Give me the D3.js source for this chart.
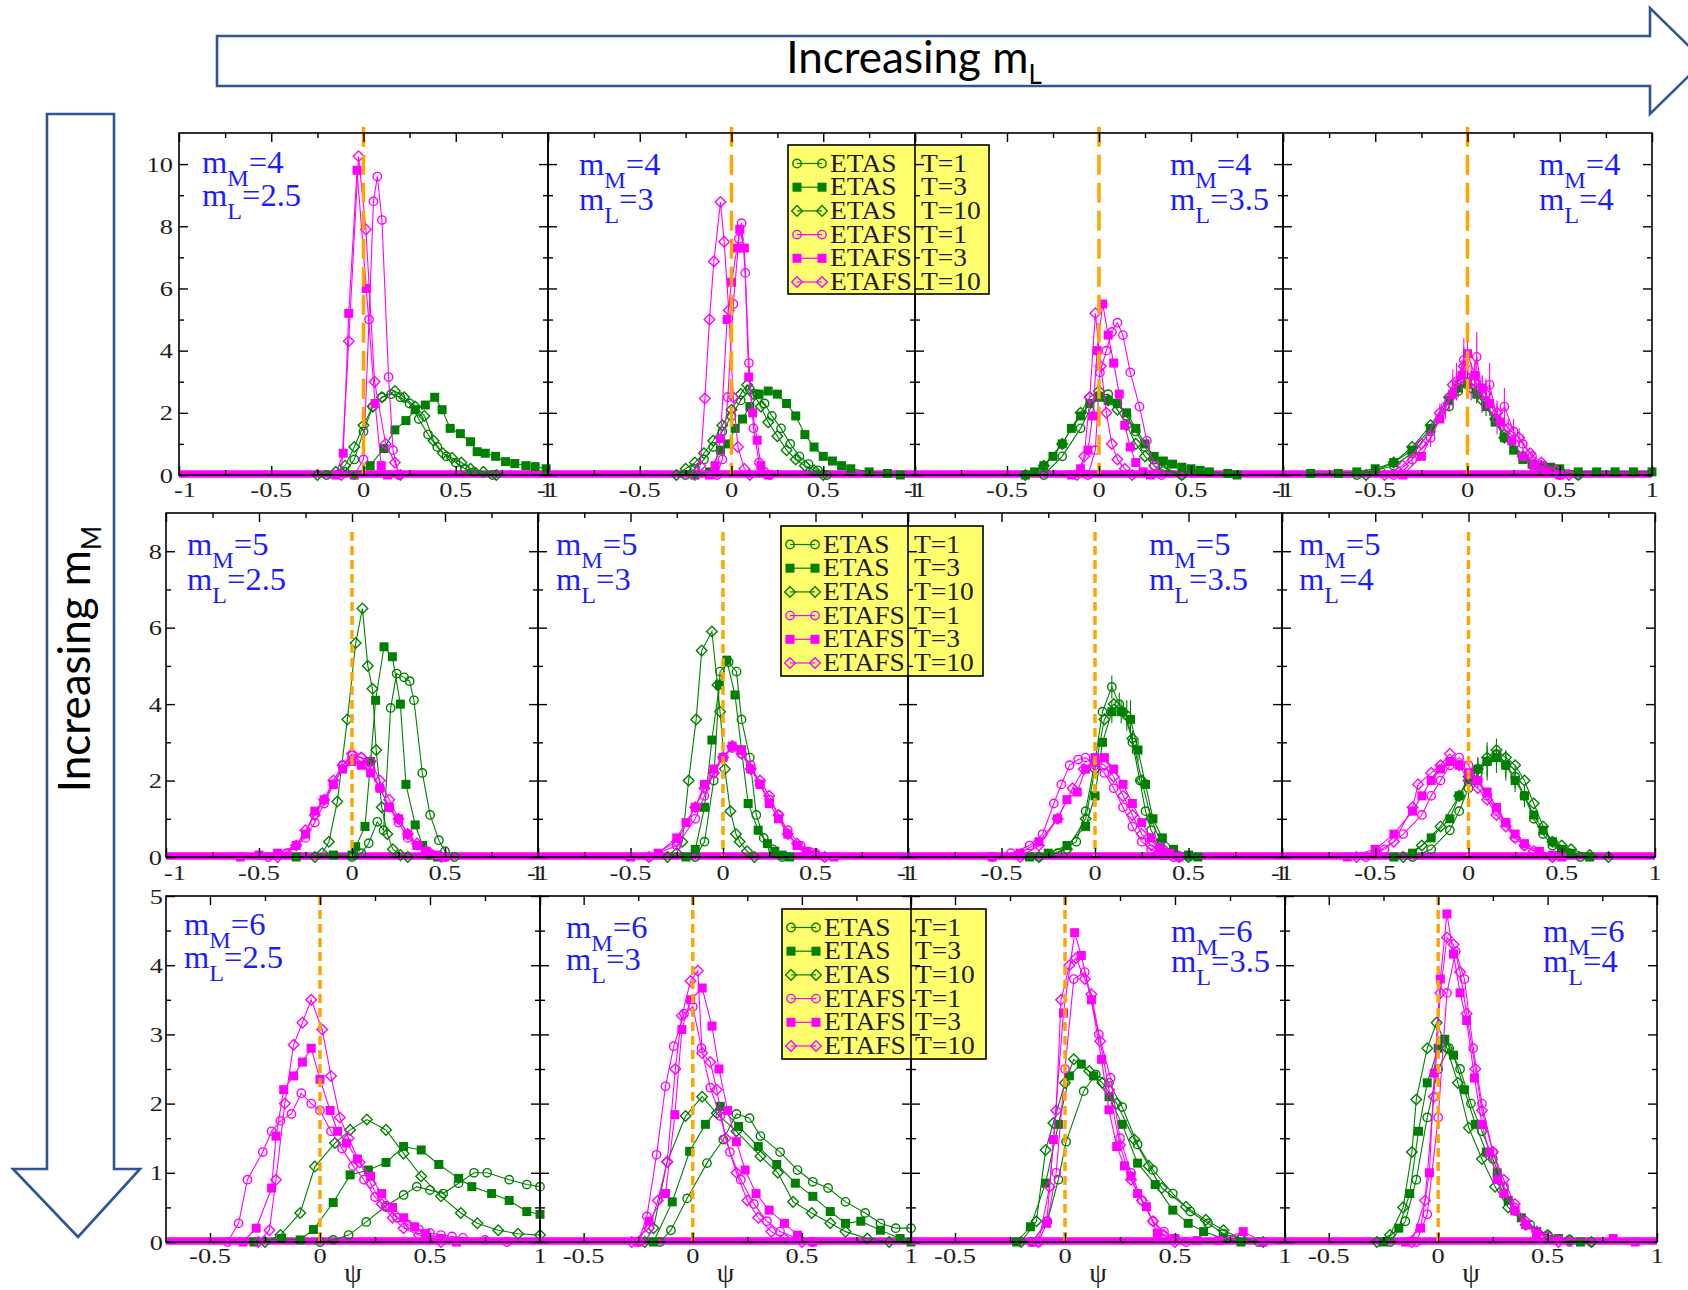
<!DOCTYPE html>
<html>
<head>
<meta charset="utf-8">
<script src="https://cdn.jsdelivr.net/npm/d3@7"></script>
<style>
  html, body { margin: 0; padding: 0; background: #ffffff; }
  svg { display: block; }
</style>
</head>
<body>
<svg id="chart" width="1688" height="1290"></svg>
<script>
// ---------------------------------------------------------------
// Histograms of psi: ETAS vs ETAFS, three time windows T, for
// mainshock magnitude m_M (rows) and lower magnitude m_L (columns).
// Each series is a list of [psi, density] or [psi, density, error].
// ---------------------------------------------------------------

const rowMM = ["4", "5", "6"];
const colML = ["2.5", "3", "3.5", "4"];
const seriesLabel = ["ETAS", "ETAS", "ETAS", "ETAFS", "ETAFS", "ETAFS"];
const seriesT = ["T=1", "T=3", "T=10", "T=1", "T=3", "T=10"];

const yMax = [11, 9, 5];
const yMajor = [[0, 2, 4, 6, 8, 10], [0, 2, 4, 6, 8], [0, 1, 2, 3, 4, 5]];
const yMinor = [[1, 3, 5, 7, 9, 11], [1, 3, 5, 7, 9], [0.5, 1.5, 2.5, 3.5, 4.5]];
const xDomains = [[-1, 1], [-1, 1], [-0.7, 1]];
const xMajor = [[-1, -0.5, 0, 0.5, 1], [-1, -0.5, 0, 0.5, 1], [-0.5, 0, 0.5, 1]];
const xMinor = [[-0.75, -0.25, 0.25, 0.75], [-0.75, -0.25, 0.25, 0.75], [-0.25, 0.25, 0.75]];
const xTickText = [["-1", "-0.5", "0", "0.5", "1"], ["-1", "-0.5", "0", "0.5", "1"], ["-0.5", "0", "0.5", "1"]];
const refLineTop = [11.2, 8.5, 5];

// ---- m_M = 4 ----
const r1c1_etas1 = [[-0.2,0],[-0.1,0.1],[-0.05,0.5],[0,1.4],[0.05,2.2],[0.1,2.5],[0.15,2.6],[0.2,2.5],[0.25,2.3],[0.3,1.8],[0.35,1.3],[0.4,0.9],[0.45,0.6],[0.5,0.4],[0.55,0.2],[0.6,0.1],[0.7,0]];
const r1c1_etas3 = [[-0.05,0],[0.036,0.3],[0.11,0.85],[0.17,1.45],[0.23,1.75],[0.28,2.1],[0.335,2.25],[0.386,2.5],[0.426,2.1],[0.47,1.5],[0.525,1.33],[0.58,1.07],[0.616,0.75],[0.66,0.7],[0.716,0.6],[0.77,0.43],[0.82,0.37],[0.88,0.3],[0.93,0.27],[0.99,0.2]];
const r1c1_etas10 = [[-0.25,0],[-0.15,0.1],[-0.1,0.3],[-0.05,0.9],[0,1.6],[0.05,2.2],[0.1,2.5],[0.17,2.7],[0.22,2.5],[0.28,2.2],[0.33,1.9],[0.38,1.1],[0.43,0.7],[0.48,0.55],[0.53,0.4],[0.58,0.2],[0.65,0.1],[0.72,0]];
const r1c1_etafs1 = [[-0.05,0],[0,0.5],[0.03,5.0],[0.054,8.8],[0.075,9.6],[0.1,8.2],[0.136,3.15],[0.16,0.8],[0.19,0]];
const r1c1_etafs3 = [[-0.15,0],[-0.11,0.7],[-0.08,5.2],[-0.035,9.8],[0.015,6.0],[0.063,2.3],[0.096,0.3],[0.13,0]];
const r1c1_etafs10 = [[-0.12,0],[-0.08,4.3],[-0.027,10.25],[0.013,7.9],[0.06,3.0],[0.12,1.0],[0.17,0.4],[0.2,0]];

const r1c2_etas1 = [[-0.25,0],[-0.2,0.2],[-0.15,0.5],[-0.1,0.9],[-0.05,1.4],[0,1.9],[0.05,2.4],[0.1,2.75],[0.14,2.6],[0.18,2.3],[0.22,1.9],[0.27,1.5],[0.32,1.0],[0.37,0.6],[0.42,0.35],[0.47,0.15],[0.52,0]];
const r1c2_etas3 = [[-0.2,0],[-0.12,0.1],[-0.06,0.8],[-0.02,1.0],[0.02,1.5],[0.06,1.8],[0.1,2.2],[0.15,2.6],[0.2,2.7],[0.25,2.6],[0.3,2.3],[0.35,1.9],[0.4,1.3],[0.45,0.9],[0.5,0.6],[0.55,0.45],[0.6,0.3],[0.65,0.2],[0.75,0.1],[0.85,0.05],[0.92,0]];
const r1c2_etas10 = [[-0.3,0],[-0.25,0.2],[-0.2,0.4],[-0.15,0.7],[-0.1,1.1],[-0.05,1.6],[0,2.1],[0.05,2.6],[0.085,2.9],[0.12,2.6],[0.16,2.2],[0.2,1.7],[0.25,1.25],[0.3,0.8],[0.35,0.5],[0.4,0.3],[0.45,0.15],[0.5,0]];
const r1c2_etafs1 = [[-0.08,0],[-0.05,0.5],[-0.02,2.5],[0.01,5.5],[0.04,7.6],[0.055,8.1],[0.075,6.5],[0.095,3.6],[0.12,1.5],[0.15,0.4],[0.18,0.1],[0.21,0]];
const r1c2_etafs3 = [[-0.12,0],[-0.09,0.3],[-0.06,1.17],[-0.024,5.0],[0,6.2],[0.03,7.3],[0.045,7.9],[0.07,7.3],[0.094,3.15],[0.115,2.0],[0.14,1.12],[0.16,0.3],[0.2,0]];
const r1c2_etafs10 = [[-0.2,0],[-0.17,0.3],[-0.145,2.46],[-0.12,5.0],[-0.096,6.87],[-0.06,8.78],[-0.04,7.5],[-0.015,5.3],[0.01,2.5],[0.035,0.9],[0.07,0.2],[0.1,0]];

const r1c3_etas1 = [[-0.3,0],[-0.2,0.6],[-0.1,1.5],[-0.05,2.1],[0,2.55],[0.05,2.6],[0.1,2.3],[0.15,1.9],[0.2,1.4],[0.25,0.9],[0.3,0.5],[0.35,0.25],[0.45,0]];
const r1c3_etas3 = [[-0.4,0],[-0.35,0.1],[-0.3,0.3],[-0.25,0.6],[-0.2,1.0],[-0.15,1.5],[-0.1,1.9],[-0.05,2.3],[0,2.5],[0.05,2.4],[0.1,2.3],[0.15,2.0],[0.2,1.5],[0.25,1.0],[0.3,0.6],[0.35,0.45],[0.4,0.35],[0.45,0.25],[0.5,0.2],[0.55,0.15],[0.6,0.1],[0.7,0.05],[0.75,0]];
const r1c3_etas10 = [[-0.4,0],[-0.3,0.3],[-0.2,1.0],[-0.1,2.0],[-0.05,2.5],[0,2.7],[0.05,2.4],[0.1,2.1],[0.15,1.6],[0.2,1.0],[0.25,0.6],[0.3,0.3],[0.35,0.15],[0.45,0]];
const r1c3_etafs1 = [[-0.06,0],[-0.02,0.8],[0.005,3.3],[0.04,4.0],[0.07,4.6],[0.1,4.9],[0.13,4.5],[0.17,3.3],[0.22,2.2],[0.26,1.1],[0.3,0.3],[0.34,0]];
const r1c3_etafs3 = [[-0.15,0],[-0.1,0.2],[-0.06,0.8],[-0.035,1.9],[-0.01,4.0],[0.02,5.5],[0.05,4.5],[0.08,3.6],[0.11,2.6],[0.14,1.6],[0.17,0.9],[0.2,0.4],[0.24,0.1],[0.28,0]];
const r1c3_etafs10 = [[-0.12,0],[-0.08,0.6],[-0.05,2.5],[-0.02,5.2],[0.01,3.5],[0.04,2.0],[0.07,1.0],[0.1,0.5],[0.14,0.2],[0.18,0]];

const r1c4_etas1 = [[-0.6,0],[-0.4,0.3],[-0.3,0.7],[-0.2,1.4],[-0.1,2.2],[-0.05,2.7],[0,2.9],[0.05,2.7],[0.1,2.3],[0.15,1.8],[0.2,1.3],[0.3,0.6],[0.4,0.2],[0.5,0.1],[0.6,0]];
const r1c4_etas3 = [[-0.85,0.05],[-0.7,0.05],[-0.6,0.1],[-0.5,0.2],[-0.4,0.4],[-0.3,0.8],[-0.2,1.5],[-0.1,2.4,0.3],[-0.05,2.8,0.3],[0,3.0,0.4],[0.05,2.6,0.3],[0.1,2.2,0.3],[0.15,1.7],[0.2,1.2],[0.25,0.8],[0.3,0.5],[0.35,0.35],[0.4,0.3],[0.45,0.25],[0.5,0.2],[0.6,0.1],[0.7,0.1],[0.8,0.1],[0.9,0.1],[1.0,0.1]];
const r1c4_etas10 = [[-0.55,0],[-0.4,0.4],[-0.3,0.9],[-0.2,1.6],[-0.1,2.5],[-0.03,3.0],[0.02,2.8],[0.08,2.4],[0.15,1.8],[0.2,1.2],[0.3,0.6],[0.4,0.3],[0.5,0.1],[0.6,0]];
const r1c4_etafs1 = [[-0.4,0],[-0.3,0.5,0.2],[-0.2,1.2,0.3],[-0.12,2.2,0.4],[-0.06,3.0,0.6],[-0.02,3.7,0.7],[0.02,3.0,0.6],[0.05,3.8,0.8],[0.08,2.6,0.6],[0.12,2.9,0.7],[0.16,1.8,0.5],[0.2,2.2,0.6],[0.25,1.4,0.4],[0.3,1.0,0.3],[0.35,0.6,0.2],[0.4,0.3],[0.45,0.1],[0.5,0]];
const r1c4_etafs3 = [[-0.35,0],[-0.25,0.6],[-0.15,1.8],[-0.08,2.6,0.4],[-0.03,3.2,0.5],[0,3.9,0.5],[0.04,3.2,0.5],[0.08,2.8,0.4],[0.12,2.3,0.4],[0.18,1.7,0.3],[0.24,1.1],[0.3,0.6],[0.36,0.3],[0.42,0.1],[0.5,0]];
const r1c4_etafs10 = [[-0.45,0],[-0.35,0.3],[-0.25,1.0],[-0.15,2.0,0.3],[-0.08,2.9,0.5],[-0.02,3.5,0.6],[0.04,3.0,0.5],[0.1,2.6,0.5],[0.16,2.0,0.4],[0.22,1.5,0.3],[0.28,1.2,0.3],[0.34,0.7],[0.4,0.4],[0.48,0.15],[0.55,0]];

// ---- m_M = 5 ----
const r2c1_etas1 = [[0,0],[0.05,0.1],[0.09,0.36],[0.136,0.92],[0.17,0.7],[0.208,3.9],[0.24,4.8],[0.28,4.7],[0.31,4.6],[0.333,4.1],[0.378,2.2],[0.42,1.1],[0.467,0.44],[0.5,0.15],[0.55,0]];
const r2c1_etas3 = [[-0.3,0],[-0.1,0.05],[0,0.05],[0.02,0.27],[0.07,0.8],[0.1,2.5],[0.127,4.1],[0.172,5.5],[0.217,5.24],[0.26,4.0],[0.29,1.9],[0.34,0.84],[0.38,0.3],[0.42,0.05],[0.46,0]];
const r2c1_etas10 = [[-0.2,0],[-0.16,0.1],[-0.124,0.4],[-0.079,1.45],[-0.025,3.6],[0.02,5.6],[0.056,6.5],[0.085,5.0],[0.11,4.4],[0.13,2.8],[0.16,1.3],[0.19,0.6],[0.22,0.2],[0.26,0.05],[0.3,0]];
const r2c1_etafs1 = [[-0.45,0],[-0.35,0.1],[-0.25,0.5],[-0.2,0.9],[-0.15,1.4],[-0.1,1.9],[-0.05,2.4],[0,2.65],[0.05,2.6],[0.1,2.3],[0.15,1.8],[0.2,1.3],[0.25,0.9],[0.3,0.5],[0.35,0.3],[0.42,0.1],[0.5,0]];
const r2c1_etafs3 = [[-0.6,0],[-0.5,0.05],[-0.4,0.1],[-0.3,0.3],[-0.25,0.6],[-0.2,1.2],[-0.15,1.5],[-0.1,1.9],[-0.05,2.3],[0,2.5],[0.05,2.4],[0.1,2.2],[0.15,1.8],[0.2,1.3],[0.25,1.0],[0.3,0.6],[0.35,0.3],[0.4,0.15],[0.45,0.05],[0.5,0]];
const r2c1_etafs10 = [[-0.4,0],[-0.3,0.3],[-0.25,0.7],[-0.2,1.1],[-0.15,1.5],[-0.1,2.0],[-0.05,2.4],[0,2.7],[0.05,2.6],[0.1,2.5],[0.15,2.0],[0.2,1.5],[0.25,1.0],[0.3,0.6],[0.35,0.35],[0.4,0.15],[0.48,0]];

const r2c2_etas1 = [[-0.15,0],[-0.1,0.4],[-0.05,2.0],[-0.016,4.85],[0.03,5.1],[0.073,4.85],[0.1,3.6],[0.145,2.6],[0.18,1.1],[0.22,0.5],[0.27,0.2],[0.32,0]];
const r2c2_etas3 = [[-0.2,0],[-0.15,0.2],[-0.1,1.3],[-0.06,3.06],[-0.02,4.5],[0.02,5.15],[0.065,4.24],[0.1,2.8],[0.136,1.4],[0.19,0.7],[0.24,0.35],[0.28,0.15],[0.32,0.05],[0.36,0]];
const r2c2_etas10 = [[-0.3,0],[-0.25,0.1],[-0.22,0.4],[-0.186,2.0],[-0.145,3.6],[-0.115,5.4],[-0.06,5.9],[-0.03,4.5],[-0.016,3.8],[0.01,2.3],[0.04,1.2],[0.07,0.6],[0.09,0.4],[0.13,0.15],[0.17,0]];
const r2c2_etafs1 = [[-0.4,0],[-0.25,0.3],[-0.15,1.0],[-0.1,1.6],[-0.05,2.2],[0,2.6],[0.05,2.85],[0.1,2.7],[0.15,2.4],[0.2,1.9],[0.25,1.5],[0.3,1.1],[0.35,0.7],[0.42,0.3],[0.5,0.1],[0.55,0]];
const r2c2_etafs3 = [[-0.5,0],[-0.35,0.1],[-0.25,0.5],[-0.2,0.9],[-0.15,1.3],[-0.1,1.9],[-0.05,2.3],[0,2.6],[0.05,2.9],[0.1,2.8],[0.15,2.3],[0.2,1.9],[0.25,1.4],[0.3,1.0],[0.35,0.6],[0.4,0.3],[0.45,0.15],[0.5,0.05],[0.6,0]];
const r2c2_etafs10 = [[-0.4,0],[-0.25,0.4],[-0.15,1.3],[-0.1,1.8],[-0.05,2.2],[0,2.6],[0.05,2.9],[0.1,2.7],[0.15,2.3],[0.2,2.0],[0.25,1.6],[0.3,1.1],[0.35,0.6],[0.4,0.35],[0.48,0.1],[0.55,0]];

const r2c3_etas1 = [[-0.3,0],[-0.2,0.1],[-0.1,0.4],[-0.05,1.2],[0,2.5],[0.04,3.8],[0.09,4.45,0.3],[0.13,4.0,0.3],[0.17,3.7,0.4],[0.2,3.0,0.3],[0.24,2.0],[0.27,1.2],[0.3,0.7],[0.35,0.3],[0.42,0.1],[0.5,0]];
const r2c3_etas3 = [[-0.35,0],[-0.25,0.1],[-0.15,0.3],[-0.05,0.8],[0,1.6],[0.04,3.0],[0.09,3.8,0.3],[0.14,3.8,0.3],[0.19,3.6,0.5],[0.23,2.8,0.3],[0.27,1.9],[0.31,1.0],[0.36,0.5],[0.42,0.2],[0.5,0.05],[0.55,0]];
const r2c3_etas10 = [[-0.3,0],[-0.15,0.2],[-0.05,1.0],[0,2.3],[0.05,3.6],[0.1,4.0],[0.15,3.8],[0.2,3.1],[0.25,2.0],[0.3,1.0],[0.35,0.4],[0.42,0.1],[0.5,0]];
const r2c3_etafs1 = [[-0.55,0],[-0.45,0.1],[-0.35,0.3],[-0.28,0.6],[-0.22,1.4],[-0.18,1.9],[-0.136,2.4],[-0.09,2.55],[-0.05,2.6],[0,2.4],[0.05,2.2],[0.1,1.8],[0.15,1.3],[0.2,0.8],[0.25,0.4],[0.3,0.2],[0.36,0.05],[0.42,0]];
const r2c3_etafs3 = [[-0.55,0],[-0.4,0.1],[-0.3,0.4],[-0.2,1.0],[-0.15,1.5],[-0.095,1.7],[-0.05,2.3],[0,2.6],[0.05,2.6],[0.1,2.3],[0.15,1.9],[0.2,1.4],[0.25,0.9],[0.3,0.5],[0.35,0.25],[0.4,0.1],[0.45,0]];
const r2c3_etafs10 = [[-0.4,0],[-0.3,0.3],[-0.2,1.0],[-0.12,1.8],[-0.06,2.3],[0,2.5],[0.05,2.4],[0.1,2.1],[0.15,1.6],[0.2,1.1],[0.25,0.6],[0.3,0.3],[0.38,0.1],[0.45,0]];

const r2c4_etas1 = [[-0.3,0],[-0.2,0.2],[-0.1,0.7],[-0.05,1.2],[0,1.8,0.3],[0.05,2.2,0.4],[0.1,2.5,0.5],[0.15,2.7,0.4],[0.2,2.4,0.4],[0.25,2.1,0.3],[0.3,1.6,0.3],[0.35,1.0],[0.4,0.6],[0.45,0.3],[0.5,0.15],[0.6,0]];
const r2c4_etas3 = [[-0.4,0],[-0.3,0.1],[-0.2,0.5],[-0.1,1.0],[-0.05,1.6],[0,2.0,0.3],[0.05,2.3,0.3],[0.1,2.5,0.4],[0.15,2.6,0.4],[0.2,2.4,0.3],[0.25,2.0,0.3],[0.3,1.6],[0.35,1.1],[0.4,0.7],[0.45,0.4],[0.5,0.2],[0.55,0.1],[0.65,0]];
const r2c4_etas10 = [[-0.35,0],[-0.25,0.3],[-0.15,0.8],[-0.05,1.6],[0,2.1],[0.05,2.3],[0.1,2.6],[0.15,2.8],[0.2,2.6],[0.25,2.4],[0.3,2.0],[0.35,1.4],[0.4,0.8],[0.45,0.4],[0.5,0.3],[0.55,0.2],[0.65,0.05],[0.75,0]];
const r2c4_etafs1 = [[-0.55,0],[-0.45,0.2],[-0.35,0.6],[-0.25,1.1],[-0.2,1.6],[-0.15,2.0],[-0.1,2.4],[-0.05,2.6],[0,2.4],[0.05,2.0],[0.1,1.6],[0.15,1.2],[0.2,0.9],[0.25,0.5],[0.3,0.3],[0.38,0.1],[0.45,0]];
const r2c4_etafs3 = [[-0.65,0],[-0.5,0.2],[-0.4,0.6],[-0.3,1.2],[-0.25,1.6],[-0.2,2.0],[-0.15,2.3],[-0.1,2.5],[-0.05,2.4],[0,2.2],[0.05,2.0],[0.1,1.7],[0.15,1.3],[0.2,0.9],[0.25,0.6],[0.3,0.35],[0.38,0.15],[0.45,0.05],[0.5,0]];
const r2c4_etafs10 = [[-0.6,0],[-0.5,0.1],[-0.4,0.4],[-0.3,1.3],[-0.27,1.9],[-0.2,2.2],[-0.15,2.4],[-0.1,2.7],[-0.05,2.4],[0,2.0],[0.05,1.8],[0.1,1.5],[0.15,1.1],[0.2,0.8],[0.25,0.5],[0.3,0.3],[0.35,0.15],[0.45,0]];

// ---- m_M = 6 ----
const r3c1_etas1 = [[0,0],[0.06,0.03],[0.13,0.1],[0.21,0.29],[0.3,0.52],[0.38,0.68],[0.44,0.8],[0.5,0.75],[0.56,0.7],[0.63,0.85],[0.7,1.0],[0.76,1.0],[0.86,0.9],[0.94,0.83],[1.0,0.8]];
const r3c1_etas3 = [[-0.3,0],[-0.175,0.05],[-0.09,0.03],[-0.03,0.18],[0.06,0.57],[0.137,0.97],[0.22,1.04],[0.3,1.15],[0.38,1.38],[0.46,1.33],[0.54,1.12],[0.63,0.92],[0.69,0.8],[0.78,0.7],[0.86,0.6],[0.94,0.44],[1.0,0.4]];
const r3c1_etas10 = [[-0.25,0],[-0.18,0.1],[-0.09,0.42],[-0.023,1.09],[0.068,1.43],[0.137,1.62],[0.213,1.77],[0.3,1.62],[0.38,1.28],[0.46,0.95],[0.55,0.66],[0.64,0.42],[0.715,0.27],[0.81,0.17],[0.9,0.12],[1.0,0.1]];
const r3c1_etafs1 = [[-0.42,0],[-0.37,0.27],[-0.33,0.9],[-0.26,1.3],[-0.22,1.6],[-0.18,1.75],[-0.13,1.85],[-0.085,2.15],[-0.04,2.0],[0,1.9],[0.05,1.6],[0.1,1.35],[0.15,1.1],[0.2,0.9],[0.25,0.65],[0.3,0.5],[0.35,0.35],[0.4,0.25],[0.45,0.18],[0.5,0.13],[0.55,0.1],[0.6,0.08],[0.65,0.06],[0.75,0.03],[0.85,0]];
const r3c1_etafs3 = [[-0.35,0],[-0.29,0.2],[-0.22,0.78],[-0.2,1.53],[-0.165,2.2],[-0.12,2.4],[-0.08,2.6],[-0.04,2.8],[0,2.35],[0.046,1.9],[0.08,1.6],[0.12,1.43],[0.17,1.2],[0.23,0.95],[0.28,0.7],[0.33,0.5],[0.38,0.35],[0.43,0.22],[0.48,0.12],[0.55,0.05],[0.62,0]];
const r3c1_etafs10 = [[-0.28,0],[-0.23,0.17],[-0.2,0.9],[-0.16,2.0],[-0.12,2.85],[-0.08,3.17],[-0.04,3.5],[0.01,3.07],[0.05,2.4],[0.09,1.8],[0.13,1.5],[0.18,1.15],[0.23,0.85],[0.28,0.55],[0.33,0.35],[0.38,0.2],[0.45,0.1],[0.55,0]];

const r3c2_etas1 = [[-0.15,0],[-0.1,0.17],[-0.026,0.63],[0.065,1.14],[0.14,1.48],[0.2,1.85],[0.26,1.79],[0.31,1.53],[0.4,1.3],[0.48,1.04],[0.55,0.87],[0.62,0.78],[0.7,0.58],[0.79,0.42],[0.86,0.27],[0.93,0.2],[1.0,0.2]];
const r3c2_etas3 = [[-0.18,0],[-0.094,0.58],[-0.014,1.31],[0.058,1.7],[0.126,1.96],[0.21,1.67],[0.3,1.38],[0.385,1.12],[0.47,0.85],[0.55,0.66],[0.63,0.44],[0.7,0.27],[0.77,0.3],[0.86,0.17],[0.95,0.05],[1.0,0]];
const r3c2_etas10 = [[-0.22,0],[-0.18,0.2],[-0.117,1.16],[-0.033,1.82],[0.043,2.1],[0.11,1.86],[0.2,1.6],[0.31,1.24],[0.39,1.0],[0.46,0.58],[0.545,0.42],[0.63,0.27],[0.7,0.15],[0.8,0.05],[0.9,0]];
const r3c2_etafs1 = [[-0.25,0],[-0.21,0.37],[-0.166,1.26],[-0.125,2.25],[-0.087,2.83],[-0.04,3.3],[0,3.4],[0.04,2.8],[0.08,2.23],[0.126,1.82],[0.17,1.3],[0.22,0.9],[0.28,0.55],[0.34,0.3],[0.4,0.15],[0.48,0.05],[0.55,0]];
const r3c2_etafs3 = [[-0.25,0],[-0.2,0.3],[-0.125,0.7],[-0.082,1.84],[-0.05,3.07],[-0.01,3.5],[0.043,3.67],[0.088,3.12],[0.12,2.5],[0.16,1.9],[0.2,1.45],[0.24,1.04],[0.29,0.7],[0.35,0.46],[0.42,0.27],[0.48,0.1],[0.55,0]];
const r3c2_etafs10 = [[-0.28,0],[-0.2,0.2],[-0.16,0.6],[-0.117,1.16],[-0.08,2.5],[-0.05,3.27],[-0.01,3.77],[0.023,3.92],[0.043,2.73],[0.08,2.6],[0.11,2.2],[0.15,1.5],[0.2,1.0],[0.25,0.6],[0.3,0.35],[0.36,0.15],[0.42,0.05],[0.5,0]];

const r3c3_etas1 = [[-0.15,0],[-0.08,0.3],[-0.03,0.9],[0.005,1.45],[0.085,2.18],[0.14,2.42],[0.2,2.3],[0.26,1.95],[0.33,1.41],[0.4,1.04],[0.49,0.7],[0.57,0.44],[0.65,0.27],[0.72,0.12],[0.8,0.05],[0.88,0]];
const r3c3_etas3 = [[-0.22,0],[-0.157,0.22],[-0.088,0.85],[-0.03,1.7],[0.02,2.4],[0.074,2.57],[0.13,2.4],[0.2,2.1],[0.26,1.7],[0.33,1.14],[0.41,0.83],[0.49,0.46],[0.56,0.27],[0.63,0.15],[0.72,0.05],[0.8,0]];
const r3c3_etas10 = [[-0.2,0],[-0.13,0.3],[-0.088,1.33],[-0.053,1.72],[0,2.3],[0.04,2.64],[0.11,2.47],[0.17,2.3],[0.235,2.0],[0.315,1.48],[0.38,1.1],[0.44,0.78],[0.55,0.51],[0.64,0.32],[0.72,0.17],[0.8,0.05],[0.9,0]];
const r3c3_etafs1 = [[-0.12,0],[-0.08,0.3],[-0.04,1.0],[0,2.5],[0.04,3.8],[0.09,3.9],[0.154,3.0],[0.207,2.37],[0.25,1.5],[0.3,1.0],[0.35,0.6],[0.4,0.3],[0.45,0.15],[0.5,0.05],[0.55,0]];
const r3c3_etafs3 = [[-0.15,0],[-0.083,0.27],[-0.053,1.48],[-0.007,3.31],[0.044,4.47],[0.074,4.14],[0.12,3.5],[0.166,2.64],[0.2,1.91],[0.235,1.38],[0.27,1.1],[0.3,0.95],[0.33,0.7],[0.37,0.51],[0.42,0.13],[0.5,0.05],[0.6,0.02],[0.7,0.02],[0.81,0.15],[0.9,0]];
const r3c3_etafs10 = [[-0.12,0],[-0.07,0.8],[-0.04,1.9],[-0.018,3.5],[0.02,4.0],[0.05,4.1],[0.09,3.8],[0.12,3.58],[0.16,2.9],[0.2,2.2],[0.25,1.4],[0.3,0.9],[0.35,0.6],[0.4,0.3],[0.45,0.1],[0.5,0]];

const r3c4_etas1 = [[-0.22,0],[-0.15,0.3],[-0.1,0.9],[-0.05,1.8],[0,2.5],[0.05,2.8],[0.1,2.5],[0.15,2.0],[0.2,1.6],[0.25,1.2],[0.3,0.8],[0.35,0.45],[0.42,0.25],[0.5,0.1],[0.6,0.03],[0.7,0]];
const r3c4_etas3 = [[-0.25,0],[-0.18,0.2],[-0.13,0.7],[-0.09,1.6],[-0.05,2.3],[0,2.8],[0.03,2.93],[0.07,2.7],[0.12,2.2],[0.17,1.7],[0.22,1.3],[0.27,1.0],[0.32,0.6],[0.38,0.35],[0.45,0.15],[0.55,0.05],[0.65,0]];
const r3c4_etas10 = [[-0.28,0],[-0.22,0.1],[-0.16,0.5],[-0.12,1.3],[-0.1,2.06],[-0.05,2.8],[-0.007,3.17],[0.04,2.8],[0.09,2.3],[0.14,1.65],[0.2,1.2],[0.26,0.8],[0.32,0.5],[0.4,0.25],[0.5,0.1],[0.6,0.03],[0.7,0]];
const r3c4_etafs1 = [[-0.1,0],[-0.05,0.4],[0,1.8],[0.04,3.6],[0.08,4.2],[0.12,3.8],[0.16,2.8],[0.2,2.0],[0.25,1.3],[0.3,0.8],[0.35,0.5],[0.4,0.25],[0.5,0.08],[0.6,0]];
const r3c4_etafs3 = [[-0.15,0],[-0.08,0.2],[-0.04,1.0],[-0.018,2.44],[0.01,3.8],[0.04,4.74],[0.07,4.16],[0.1,3.6],[0.13,3.2],[0.166,2.37],[0.2,1.7],[0.235,1.29],[0.27,0.9],[0.3,0.7],[0.35,0.45],[0.4,0.25],[0.45,0.12],[0.55,0.03],[0.8,0.05],[0.9,0]];
const r3c4_etafs10 = [[-0.12,0],[-0.06,0.6],[-0.02,2.1],[0.01,3.6],[0.04,4.4],[0.07,4.3],[0.1,3.9],[0.13,3.3],[0.17,2.5],[0.2,1.9],[0.25,1.3],[0.3,0.9],[0.35,0.55],[0.4,0.3],[0.45,0.15],[0.55,0]];

// panel -> six series, in legend order
const panelSeries = [
  [[r1c1_etas1, r1c1_etas3, r1c1_etas10, r1c1_etafs1, r1c1_etafs3, r1c1_etafs10],
   [r1c2_etas1, r1c2_etas3, r1c2_etas10, r1c2_etafs1, r1c2_etafs3, r1c2_etafs10],
   [r1c3_etas1, r1c3_etas3, r1c3_etas10, r1c3_etafs1, r1c3_etafs3, r1c3_etafs10],
   [r1c4_etas1, r1c4_etas3, r1c4_etas10, r1c4_etafs1, r1c4_etafs3, r1c4_etafs10]],
  [[r2c1_etas1, r2c1_etas3, r2c1_etas10, r2c1_etafs1, r2c1_etafs3, r2c1_etafs10],
   [r2c2_etas1, r2c2_etas3, r2c2_etas10, r2c2_etafs1, r2c2_etafs3, r2c2_etafs10],
   [r2c3_etas1, r2c3_etas3, r2c3_etas10, r2c3_etafs1, r2c3_etafs3, r2c3_etafs10],
   [r2c4_etas1, r2c4_etas3, r2c4_etas10, r2c4_etafs1, r2c4_etafs3, r2c4_etafs10]],
  [[r3c1_etas1, r3c1_etas3, r3c1_etas10, r3c1_etafs1, r3c1_etafs3, r3c1_etafs10],
   [r3c2_etas1, r3c2_etas3, r3c2_etas10, r3c2_etafs1, r3c2_etafs3, r3c2_etafs10],
   [r3c3_etas1, r3c3_etas3, r3c3_etas10, r3c3_etafs1, r3c3_etafs3, r3c3_etafs10],
   [r3c4_etas1, r3c4_etas3, r3c4_etas10, r3c4_etafs1, r3c4_etafs3, r3c4_etafs10]]
];

// ---------------- layout & styles ----------------
const GREEN = "#008000", MAGENTA = "#ff00ff", ORANGE = "#ffa500";
const LABEL_BLUE = "#1c1cff", ARROW_BLUE = "#2f5597", INK = "#1e1e1e";
const SERIF = "'Liberation Serif', 'Times New Roman', serif";
const seriesColor = [GREEN, GREEN, GREEN, MAGENTA, MAGENTA, MAGENTA];
const seriesShape = ["circle", "square", "diamond", "circle", "square", "diamond"];

const rowTop = [133, 513, 896];
const rowBottom = [475, 857, 1242];
const colEdges = [[179, 548, 915, 1283, 1652], [166, 538, 908, 1282, 1655], [166, 540, 911, 1285, 1657]];
const yLabelRight = [173, 162, 163];
const firstXLabelShift = [6, 9, 0];
const xLabelBase = [497, 880, 1263];
const refDash = ["20,8", "9,5", "9,5"];
const legendBox = [[788, 145, 201, 149], [781, 526, 202, 150], [782, 909, 204, 150]];
const tagPos = [
  [[202, 173, 206], [579, 175, 210], [1170, 175, 210], [1539, 175, 210]],
  [[187, 555, 590], [556, 555, 590], [1149, 555, 590], [1299, 555, 590]],
  [[184, 935, 968], [566, 938, 970], [1171, 942, 972], [1543, 942, 972]]
];
const TICK_FONT = 22, TICK_STRETCH = 1.2;
const LEGEND_FONT = 25, LEGEND_STRETCH = 1.1, LEGEND_STEP = 23.7;

const svg = d3.select("#chart");

// ---------------- direction arrows ----------------
const topArrow = [[217, 36], [1650, 36], [1650, 8], [1704, 61], [1650, 114], [1650, 86], [217, 86]];
const leftArrow = [[47, 114], [114, 114], [114, 1169], [140, 1169], [78, 1237], [13, 1169], [47, 1169]];
[topArrow, leftArrow].forEach(pts => {
  svg.append("path")
    .attr("d", d3.line()(pts) + "Z")
    .attr("fill", "#ffffff")
    .attr("stroke", ARROW_BLUE)
    .attr("stroke-width", 2.6)
    .attr("stroke-linejoin", "miter");
});

function arrowText(sel, sub) {
  sel.attr("font-family", "Lato, 'Open Sans', sans-serif")
    .attr("font-size", 44)
    .attr("fill", "#000")
    .attr("text-anchor", "middle");
  sel.append("tspan").text("Increasing m");
  sel.append("tspan").attr("font-size", 26).attr("dy", 11).text(sub);
}
arrowText(svg.append("text").attr("x", 914).attr("y", 73), "L");
arrowText(svg.append("text").attr("transform", "translate(90,659) rotate(-90)"), "M");

// ---------------- helpers ----------------
// serif label, widened horizontally like the plotting program's font
function label(g, x, y, str, size, anchor, stretch) {
  return g.append("text")
    .attr("transform", `translate(${x},${y}) scale(${stretch},1)`)
    .attr("text-anchor", anchor)
    .attr("font-family", SERIF).attr("font-size", size).attr("fill", INK)
    .text(str);
}

function marker(g, shape, cx, cy, color) {
  if (shape === "square") {
    g.append("rect").attr("x", cx - 4.5).attr("y", cy - 4.5)
      .attr("width", 9).attr("height", 9).attr("fill", color);
  } else if (shape === "circle") {
    g.append("circle").attr("cx", cx).attr("cy", cy).attr("r", 4.2)
      .attr("fill", "none").attr("stroke", color).attr("stroke-width", 1.4);
  } else {
    const s = 5.3;
    g.append("path")
      .attr("d", `M${cx},${cy - s}L${cx + s},${cy}L${cx},${cy + s}L${cx - s},${cy}Z`)
      .attr("fill", "none").attr("stroke", color).attr("stroke-width", 1.4);
  }
}

function drawSeries(g, x, y, pts, i) {
  const color = seriesColor[i];
  const line = d3.line().x(d => x(d[0])).y(d => y(d[1]));
  g.append("path").attr("d", line(pts))
    .attr("fill", "none").attr("stroke", color).attr("stroke-width", 1.1);
  pts.filter(d => d.length > 2).forEach(d => {
    g.append("line")
      .attr("x1", x(d[0])).attr("x2", x(d[0]))
      .attr("y1", y(Math.max(0, d[1] - d[2]))).attr("y2", y(d[1] + d[2]))
      .attr("stroke", color).attr("stroke-width", 1.1);
  });
  pts.forEach(d => marker(g, seriesShape[i], x(d[0]), y(d[1]), color));
}

function ticks(g, axis, transform) {
  g.append("g").attr("transform", transform).attr("color", "#000")
    .call(axis)
    .call(a => a.select(".domain").remove())
    .call(a => a.selectAll("line").attr("stroke-width", 1.4));
}

function drawLegend(r) {
  const [bx, by, bw, bh] = legendBox[r];
  const g = svg.append("g");
  g.append("rect").attr("x", bx).attr("y", by).attr("width", bw).attr("height", bh)
    .attr("fill", "#ffff6e").attr("stroke", "#000").attr("stroke-width", 1.6);
  seriesLabel.forEach((name, i) => {
    const cy = by + 26.5 + i * LEGEND_STEP - 8;
    g.append("line").attr("x1", bx + 9).attr("x2", bx + 34).attr("y1", cy).attr("y2", cy)
      .attr("stroke", seriesColor[i]).attr("stroke-width", 1.2);
    marker(g, seriesShape[i], bx + 9, cy, seriesColor[i]);
    marker(g, seriesShape[i], bx + 34, cy, seriesColor[i]);
  });
  // two text columns, one line per series
  [[seriesLabel, 42], [seriesT, 133]].forEach(([col, off]) => {
    const t = label(g, bx + off, by + 26.5, "", LEGEND_FONT, "start", LEGEND_STRETCH);
    col.forEach((s, i) => t.append("tspan").attr("x", 0).attr("y", i * LEGEND_STEP).text(s));
  });
}

function drawTag(r, c) {
  const [tx, b1, b2] = tagPos[r][c];
  const t = svg.append("text")
    .attr("transform", `translate(${tx},${b1}) scale(1.05,1)`)
    .attr("font-family", SERIF).attr("font-size", 31).attr("fill", LABEL_BLUE);
  [["M", rowMM[r], 0], ["L", colML[c], b2 - b1]].forEach(([sub, val, yy]) => {
    t.append("tspan").attr("x", 0).attr("y", yy).text("m");
    t.append("tspan").attr("font-size", 23).attr("dy", 13).text(sub);
    t.append("tspan").attr("dy", -13).text("=" + val);
  });
}

// ---------------- panels ----------------
for (let r = 0; r < 3; r++) {
  for (let c = 0; c < 4; c++) {
    const x0 = colEdges[r][c], x1 = colEdges[r][c + 1];
    const x = d3.scaleLinear().domain(xDomains[r]).range([x0, x1]);
    const y = d3.scaleLinear().domain([0, yMax[r]]).range([rowBottom[r], rowTop[r]]);
    const g = svg.append("g");

    // empty bins of the ETAFS histograms pile up along zero
    g.append("line")
      .attr("x1", x(xDomains[r][0])).attr("x2", x(xDomains[r][1]))
      .attr("y1", y(0) - 1).attr("y2", y(0) - 1)
      .attr("stroke", MAGENTA).attr("stroke-width", 7.5);

    panelSeries[r][c].forEach((pts, i) => drawSeries(g, x, y, pts, i));

    // reference line at psi = 0
    g.append("line")
      .attr("x1", x(0)).attr("x2", x(0))
      .attr("y1", y(refLineTop[r])).attr("y2", y(0))
      .attr("stroke", ORANGE).attr("stroke-width", 3.5)
      .attr("stroke-dasharray", refDash[r]);

    // frame and inward ticks
    g.append("rect").attr("x", x0).attr("y", rowTop[r])
      .attr("width", x1 - x0).attr("height", rowBottom[r] - rowTop[r])
      .attr("fill", "none").attr("stroke", "#000").attr("stroke-width", 1.6);
    const yMin = yMinor[r].filter(v => v < yMax[r]);
    ticks(g, d3.axisRight(y).tickValues(yMajor[r]).tickSize(9).tickFormat(""), `translate(${x0},0)`);
    ticks(g, d3.axisRight(y).tickValues(yMin).tickSize(5).tickFormat(""), `translate(${x0},0)`);
    ticks(g, d3.axisLeft(y).tickValues(yMajor[r]).tickSize(9).tickFormat(""), `translate(${x1},0)`);
    ticks(g, d3.axisLeft(y).tickValues(yMin).tickSize(5).tickFormat(""), `translate(${x1},0)`);
    ticks(g, d3.axisBottom(x).tickValues(xMajor[r]).tickSize(9).tickFormat(""), `translate(0,${rowTop[r]})`);
    ticks(g, d3.axisBottom(x).tickValues(xMinor[r]).tickSize(5).tickFormat(""), `translate(0,${rowTop[r]})`);
    ticks(g, d3.axisTop(x).tickValues(xMajor[r]).tickSize(9).tickFormat(""), `translate(0,${rowBottom[r]})`);
    ticks(g, d3.axisTop(x).tickValues(xMinor[r]).tickSize(5).tickFormat(""), `translate(0,${rowBottom[r]})`);

    // x tick labels; where two panels meet, this panel's "1" and the
    // next panel's "-1" sit on the same spot and are set as one label
    const dx0 = xDomains[r][0], dx1 = xDomains[r][1];
    const shared = (dx0 === -1);
    xMajor[r].forEach((v, k) => {
      const txt = xTickText[r][k];
      if (shared && v === dx0 && c > 0) return;
      if (shared && v === dx1 && c < 3) {
        const first = xTickText[r][0];
        label(g, x(v), xLabelBase[r], first + txt, TICK_FONT, "start", TICK_STRETCH)
          .attr("x", -TICK_FONT * 0.4167)
          .attr("dx", `0 0 ${-TICK_FONT * 0.6667}`);
        return;
      }
      const shift = (k === 0 && c === 0) ? firstXLabelShift[r] : 0;
      label(g, x(v) + shift, xLabelBase[r], txt, TICK_FONT, "middle", TICK_STRETCH);
    });

    // y tick labels on the first column
    if (c === 0) {
      yMajor[r].forEach(v => {
        label(g, yLabelRight[r], y(v) + 7.5, String(v), TICK_FONT, "end", TICK_STRETCH);
      });
    }

    // psi axis title on the bottom row
    if (r === 2) {
      label(g, (x0 + x1) / 2, 1282, "ψ", 28, "middle", 1);
    }

    drawTag(r, c);
    if (c === 1) drawLegend(r);
  }
}
</script>
</body>
</html>
